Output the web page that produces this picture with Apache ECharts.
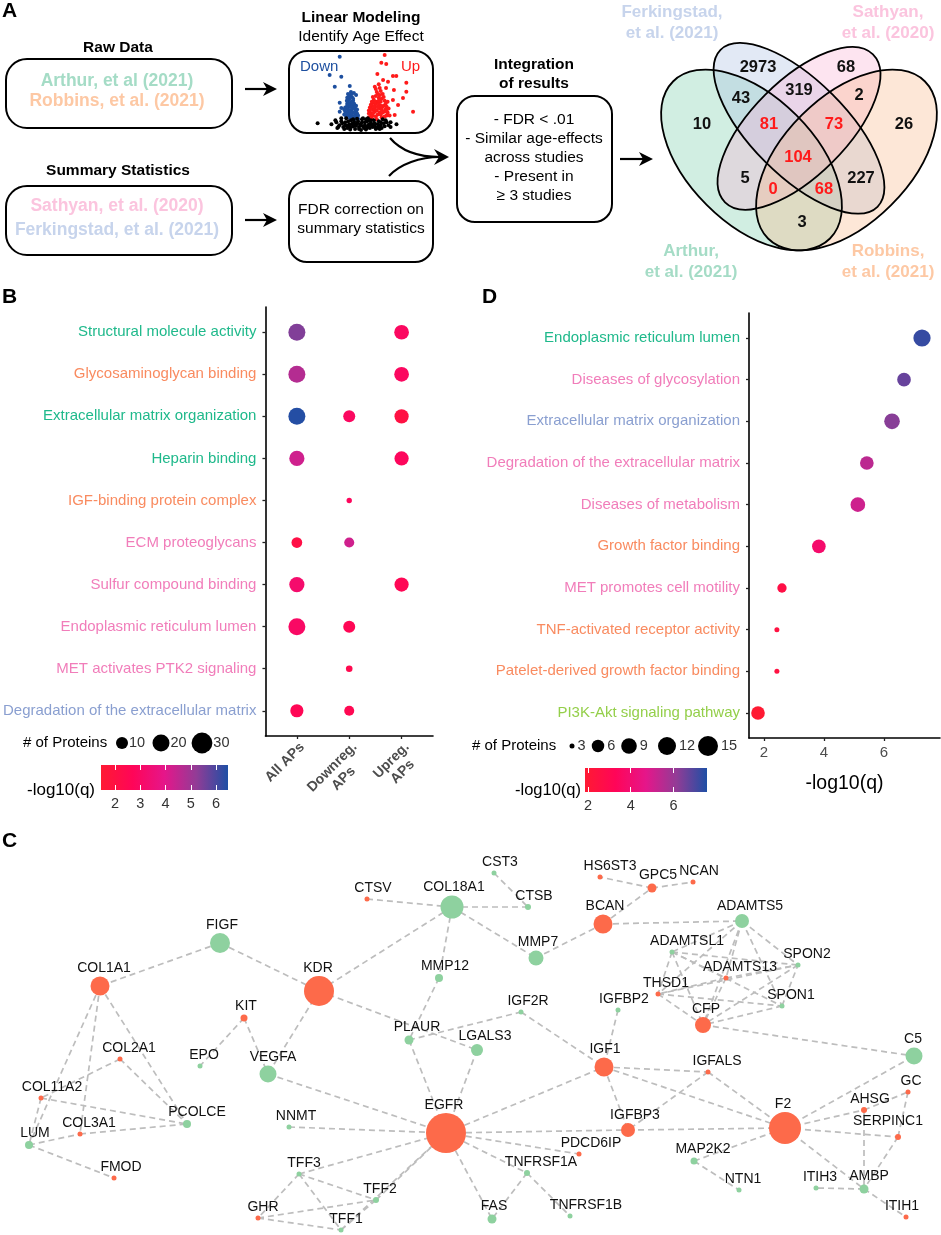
<!DOCTYPE html>
<html><head><meta charset="utf-8">
<script src="https://cdn.jsdelivr.net/npm/echarts@6.0.0/dist/echarts.min.js"></script>
<style>html,body{margin:0;padding:0;background:#fff}#main{width:941px;height:1235px}</style>
</head><body><div id="main"></div>
<script>
// ================= DATA =================
// Panel A – Venn (region membership: A=Arthur, F=Ferkingstad, S=Sathyan, R=Robbins)
const vennRegions = ['F','S','AF','FS','SR','A','AFS','FSR','R','AFSR','AS','ASR','AFR','FR','AR'];
const vennCounts  = [2973, 68, 43, 319, 2, 10, 81, 73, 26, 104, 5, 0, 68, 227, 3];
const vennSetNames = ['Arthur,\net al. (2021)','Ferkingstad,\net al. (2021)','Sathyan,\net al. (2020)','Robbins,\net al. (2021)'];

// Panel A – volcano sketch (logFC, -log10 p)
const volcanoDown = [[-1.08,7.62],[-1.59,5.74],[-1.0,5.57],[-1.33,4.54],[-0.57,4.62],[-0.51,4.0],[-0.36,3.9],[-0.66,3.79],[-0.25,3.69],[-0.46,3.49],[-1.08,2.9],[-1.0,2.36],[-1.08,1.98],
  [-0.7,2.8],[-0.6,2.5],[-0.5,2.9],[-0.4,2.6],[-0.3,2.2],[-0.8,2.0],[-0.6,1.8],[-0.45,1.6],[-0.3,1.8],[-0.2,1.5],[-0.75,1.5],[-0.55,1.3],[-0.35,1.2],[-0.15,1.25],[-0.65,2.2],[-0.5,2.1],[-0.85,1.7],[-0.25,2.6],[-0.4,3.1],[-0.6,3.2],[-0.55,3.5],[-0.7,3.4],
  [-0.8,2.4],[-0.7,2.6],[-0.65,1.9],[-0.55,2.0],[-0.45,2.3],[-0.35,2.4],[-0.25,2.0],[-0.2,1.8],[-0.15,1.6],[-0.4,1.9],[-0.5,1.7],[-0.6,1.55],[-0.7,1.75],[-0.3,1.45],[-0.45,1.35],[-0.55,2.7],[-0.35,2.8],[-0.45,3.0],[-0.65,2.95],[-0.75,2.3],[-0.85,2.2],[-0.5,2.5],[-0.3,2.5],[-0.2,2.2],[-0.6,3.6],[-0.5,3.8],[-0.4,3.3],[-0.72,3.1]];
const volcanoUp = [[1.2,7.79],[1.03,7.0],[1.28,6.87],[0.83,5.85],[1.62,5.64],[1.79,5.64],[1.12,5.23],[1.37,5.06],[2.3,4.95],[0.7,4.54],[1.67,4.2],[1.27,4.4],[2.3,4.03],[2.13,3.38],[1.62,3.18],[2.64,1.98],[1.71,1.64],[0.96,3.7],[1.88,2.67],
  [0.4,1.4],[0.5,1.8],[0.6,2.2],[0.7,2.6],[0.8,3.0],[0.9,3.4],[1.0,3.0],[1.1,2.5],[1.2,2.0],[1.3,1.6],[0.55,1.3],[0.75,1.5],[0.95,1.9],[1.05,1.4],[0.65,3.2],[0.85,3.8],[1.0,4.1],[0.45,2.4],[1.25,2.8],[1.15,3.5],[0.7,2.0],[0.9,2.4],[0.6,2.9],[1.4,2.3],[0.5,1.5],[0.8,1.2],
  [0.4,1.8],[0.45,2.0],[0.5,2.3],[0.55,2.6],[0.6,1.6],[0.65,1.9],[0.7,2.3],[0.75,2.8],[0.8,2.1],[0.85,1.7],[0.9,2.8],[0.95,2.3],[1.0,1.7],[1.05,2.2],[1.1,1.9],[1.15,2.6],[1.2,1.5],[1.25,2.2],[1.3,2.5],[1.35,1.9],[0.6,3.5],[0.7,3.0],[0.75,3.6],[0.8,4.0],[0.9,3.1],[0.95,4.4],[1.05,3.3],[1.1,3.8],[1.2,3.1],[0.5,2.7],[0.4,2.1],[0.55,3.0],[1.0,2.6],[0.85,2.5],[0.65,2.5],[1.3,2.0],[1.45,1.6],[1.35,3.0],[0.9,4.8],[0.75,4.3]];
const volcanoNS = [[-2.2,0.8],[-1.5,0.7],[-1.3,1.1],[-1.1,0.6],[-1.0,1.3],[-0.9,0.4],[-0.8,0.9],[-0.7,0.3],[-0.6,0.7],[-0.5,1.1],[-0.4,0.5],[-0.3,0.2],[-0.2,0.8],[-0.1,0.4],[0.0,0.1],[0.1,0.5],[0.2,0.9],[0.3,0.3],[0.4,0.7],[0.5,1.1],[0.6,0.4],[0.7,0.8],[0.8,0.3],[0.9,1.0],[1.0,0.6],[1.1,1.2],[1.2,0.5],[1.3,0.9],[1.5,0.4],[1.5,0.9],[1.8,0.7],[-0.35,0.95],[0.05,1.2],[-0.75,1.3],[0.35,1.3],[-1.2,0.3],[0.95,0.2],[-0.05,0.7],[0.25,0.15],[-0.55,0.15],
  [-1.25,0.9],[-1.15,0.4],[-0.95,0.8],[-0.85,0.2],[-0.65,1.0],[-0.6,0.45],[-0.45,0.75],[-0.4,1.2],[-0.25,0.55],[-0.15,1.0],[-0.1,0.2],[0.0,0.6],[0.05,0.9],[0.15,0.3],[0.2,0.6],[0.3,1.0],[0.35,0.5],[0.45,0.3],[0.5,0.8],[0.55,0.55],[0.65,1.1],[0.7,0.5],[0.75,0.2],[0.85,0.7],[0.9,0.4],[1.0,0.9],[1.05,0.3],[1.15,0.8],[1.25,1.1],[-0.5,0.4],[-0.2,1.25],[0.1,1.3],[0.4,1.1],[-0.8,0.6],[-1.0,1.0],[0.6,0.7],[-0.3,0.7],[0.25,1.2],[-0.7,0.55],[1.4,0.6]];

// Panel B
const bTerms = ['Structural molecule activity','Glycosaminoglycan binding','Extracellular matrix organization','Heparin binding','IGF-binding protein complex','ECM proteoglycans','Sulfur compound binding','Endoplasmic reticulum lumen','MET activates PTK2 signaling','Degradation of the extracellular matrix'];
const bTermGroup = ['teal','orange','teal','teal','orange','pink','pink','pink','pink','blue'];
const bColumns = ['All APs','Downreg.\nAPs','Upreg.\nAPs'];
const bQ = [[5.4,null,2.9],[4.7,null,2.9],[6.4,2.9,2.0],[4.3,null,2.8],[null,2.8,null],[2.1,4.3,null],[3.2,null,2.6],[3.0,2.6,null],[null,2.4,null],[2.6,2.5,null]];
const bN = [[20,null,15],[20,null,15],[20,10,14],[16,null,14],[null,2,null],[8,7,null],[16,null,14],[20,10,null],[null,3,null],[12,7,null]];
const bSizeLegend = [10,20,30];
const bColorTicks = [2,3,4,5,6];

// Panel D
const dTerms = ['Endoplasmic reticulum lumen','Diseases of glycosylation','Extracellular matrix organization','Degradation of the extracellular matrix','Diseases of metabolism','Growth factor binding','MET promotes cell motility','TNF-activated receptor activity','Patelet-derived growth factor binding','PI3K-Akt signaling pathway'];
const dTermGroup = ['teal','pink','blue','pink','pink','orange','pink','orange','orange','green'];
const dQ = [7.27,6.67,6.27,5.43,5.13,3.83,2.6,2.43,2.43,1.8];
const dN = [11,7,9,7,8,7,4,3,3,7];
const dSizeLegend = [3,6,9,12,15];
const dColorTicks = [2,4,6];
const dXTicks = [2,4,6];

// Panel C – network
const netNodes = ['CTSV','COL18A1','CST3','CTSB','FIGF','COL1A1','KDR','MMP12','KIT','PLAUR','COL2A1','EPO','VEGFA','COL11A2','PCOLCE','NNMT','EGFR','COL3A1','LUM','FMOD','TFF3','TFF2','GHR','TFF1',
  'HS6ST3','GPC5','NCAN','BCAN','ADAMTS5','MMP7','ADAMTSL1','SPON2','ADAMTS13','THSD1','SPON1','IGF2R','IGFBP2','CFP','LGALS3','C5','IGF1','IGFALS','GC','AHSG','F2','IGFBP3','SERPINC1','PDCD6IP','MAP2K2','TNFRSF1A','ITIH3','AMBP','NTN1','ITIH1','FAS','TNFRSF1B'];
const netGroup = ['up','down','down','down','down','up','up','down','up','down','up','down','down','up','down','down','up','up','down','up','down','down','up','down',
  'up','up','up','up','down','down','down','down','up','up','down','down','down','up','down','down','up','up','up','up','up','up','up','up','down','down','down','down','down','up','down','down'];
const netDegreeSize = [5,23,5,6,20,19,30,8,7,9,5,5,17,5,8,5,40,5,8,5,5,6,5,5,
  5,9,5,19,14,15,5,5,5,5,5,5,5,16,12,17,19,5,5,6,32,14,6,5,7,6,5,9,5,5,9,5];
const netEdges = [['CTSV','COL18A1'],['COL18A1','CTSB'],['CST3','CTSB'],['COL18A1','KDR'],['COL18A1','MMP12'],['COL18A1','MMP7'],['FIGF','COL1A1'],['FIGF','KDR'],['KDR','VEGFA'],['KDR','LGALS3'],
  ['MMP12','PLAUR'],['PLAUR','IGF2R'],['PLAUR','EGFR'],['LGALS3','EGFR'],['KIT','EPO'],['KIT','VEGFA'],['VEGFA','EGFR'],['COL1A1','LUM'],['COL1A1','COL3A1'],['COL1A1','PCOLCE'],
  ['COL2A1','COL11A2'],['COL2A1','PCOLCE'],['COL11A2','PCOLCE'],['COL11A2','LUM'],['LUM','COL3A1'],['COL3A1','PCOLCE'],['LUM','FMOD'],['NNMT','EGFR'],['TFF3','EGFR'],['TFF2','EGFR'],
  ['TFF1','EGFR'],['TFF3','TFF2'],['TFF3','TFF1'],['TFF3','GHR'],['GHR','TFF2'],['GHR','TFF1'],['TFF1','TFF2'],['EGFR','FAS'],['EGFR','TNFRSF1A'],['EGFR','PDCD6IP'],['EGFR','IGFBP3'],['EGFR','IGF1'],
  ['TNFRSF1A','FAS'],['TNFRSF1A','TNFRSF1B'],['IGF2R','IGF1'],['IGFBP2','IGF1'],['IGF1','IGFALS'],['IGF1','IGFBP3'],['IGF1','F2'],['IGFALS','IGFBP3'],['IGFALS','F2'],['IGFBP3','F2'],
  ['MAP2K2','F2'],['MAP2K2','NTN1'],['F2','C5'],['F2','AHSG'],['AHSG','GC'],['F2','SERPINC1'],['F2','AMBP'],['GC','SERPINC1'],['SERPINC1','AMBP'],['AHSG','AMBP'],['AMBP','ITIH3'],['AMBP','ITIH1'],
  ['CFP','C5'],['BCAN','MMP7'],['BCAN','GPC5'],['BCAN','ADAMTS5'],['GPC5','HS6ST3'],['GPC5','NCAN'],['ADAMTS5','ADAMTSL1'],['ADAMTS5','SPON2'],['ADAMTS5','SPON1'],['ADAMTS5','THSD1'],
  ['ADAMTS5','ADAMTS13'],['ADAMTS5','CFP'],['ADAMTSL1','SPON2'],['ADAMTSL1','SPON1'],['ADAMTSL1','THSD1'],['ADAMTSL1','ADAMTS13'],['ADAMTSL1','CFP'],['ADAMTS13','SPON2'],['ADAMTS13','THSD1'],
  ['ADAMTS13','CFP'],['THSD1','SPON1'],['THSD1','SPON2'],['THSD1','CFP'],['SPON1','SPON2'],['SPON1','CFP'],['SPON2','CFP']];

// ================= LAYOUT (positions only) =================
const netLayout = [[367,899],[452,907],[494,873],[528,907],[220,943],[100,986],[319,991],[439,978],[244,1018],[409,1040],[120,1059],[200,1066],[268,1074],[41,1098],[187,1124],[289,1127],[446,1133],[80,1134],[29,1145],[114,1178],[299,1174],[376,1200],[258,1218],[341,1230],
  [600,877],[652,888],[693,882],[603,924],[742,921],[536,958],[672,952],[798,965],[726,978],[658,994],[782,1006],[521,1012],[618,1010],[703,1025],[477,1050],[914,1056],[604,1067],[708,1072],[908,1092],[864,1110],[785,1128],[628,1130],[898,1137],[579,1154],[694,1161],[527,1173],[816,1188],[864,1189],[739,1190],[906,1217],[492,1219],[570,1216]];
const netLabelDx = [6,2,6,6,2,4,-1,6,2,8,9,4,5,11,10,7,-2,9,6,7,5,4,5,5,
  10,6,6,2,8,2,15,9,14,8,9,7,6,3,8,-1,1,9,3,6,-2,7,-10,12,9,14,4,5,4,-4,2,16];
const vennPos = [[758,67],[846,67],[741,98],[799,90],[859,95],[702,124],[769,124],[834,124],[904,124],[798,157],[745,178],[773,189],[824,189],[861,178],[802,222]];
const vennEllipses = [ // cx, cy, rx, ry, rotation
  [751.5,160,111,63.4,-Math.PI/4],[799,128.3,111,47.6,-Math.PI/4],[799,128.3,104.6,47.6,Math.PI/4],[846.5,160,111,63.4,Math.PI/4]];
const vennLabelPos = [[691,262],[672,23],[888,23],[888,262]];

// ================= STYLE =================
const FONT = '"Liberation Sans", Arial, Helvetica, sans-serif';
const groupColor = {teal:'#1fb98b', orange:'#f98b60', pink:'#f17dba', blue:'#8a9fd0', green:'#94cf4a'};
const nodeColor = {up:'#fd6a4a', down:'#8ed19f'};
const cbColors = ['#ff1a33','#ff0558','#e5168a','#923c96','#1e4fa5'];
const vennFill = ['rgba(120,205,170,0.34)','rgba(170,190,225,0.34)','rgba(250,175,210,0.34)','rgba(250,180,130,0.32)'];
const vennLabelColor = ['#a5dcc6','#c7d4ec','#fbc4de','#fdc8a4'];
const sizeB = n => 3.8*Math.sqrt(n);
const sizeD = n => 5 + 15*Math.sqrt(Math.max(0,(n-3))/12);

// ================= BUILD =================
const chart = echarts.init(document.getElementById('main'), null, {renderer:'canvas'});
const mctx = document.createElement('canvas').getContext('2d');
function textW(s, font){ mctx.font = font; return Math.max(...s.split('\n').map(l=>mctx.measureText(l).width)); }

function T(text, x, y, o) {
  o = o || {};
  return {type:'text', z:o.z||5, silent:true, style:{text, x, y, fill:o.fill||'#000', fontSize:o.size||15, fontWeight:o.bold?'bold':'normal',
    fontFamily:FONT, align:o.align||'center', verticalAlign:o.va||'middle', textAlign:o.align||'center', textVerticalAlign:o.va||'middle', lineHeight:o.lh||undefined}};
}
function rrect(x,y,w,h,r){ return {type:'rect', z:4, silent:true, shape:{x,y,width:w,height:h,r}, style:{fill:'none', stroke:'#000', lineWidth:2}}; }
function arrow(x1,x2,y){
  return [{type:'line', z:4, silent:true, shape:{x1, y1:y, x2:x2-8, y2:y}, style:{stroke:'#000', lineWidth:2.2}},
          {type:'polygon', z:4, silent:true, shape:{points:[[x2,y],[x2-14,y-7],[x2-10,y],[x2-14,y+7]]}, style:{fill:'#000'}}];
}
const G = [];
G.push(T('A',2,11,{bold:true,size:21,align:'left'}), T('B',2,297,{bold:true,size:21,align:'left'}), T('D',482,297,{bold:true,size:21,align:'left'}), T('C',2,841,{bold:true,size:21,align:'left'}));
G.push(T('Raw Data',118,48,{bold:true,size:15.5}));
G.push(rrect(6,59,226,69,21));
G.push(T('Arthur, et al (2021)',117,81,{bold:true,size:17.5,fill:'#a5dcc6'}), T('Robbins, et al. (2021)',117,101,{bold:true,size:17.5,fill:'#fdc8a4'}));
G.push(...arrow(245,277,89));
G.push(T('Linear Modeling',361,18,{bold:true,size:15.5}), T('Identify Age Effect',361,37,{size:15.5}));
G.push(rrect(289,51,144,82,18));
G.push(T('Down',300,67,{size:15,fill:'#1d4f9f',align:'left'}), T('Up',401,67,{size:15,fill:'#ff1a1a',align:'left'}));
G.push(T('Summary Statistics',118,171,{bold:true,size:15.5}));
G.push(rrect(6,186,226,69,21));
G.push(T('Sathyan, et al. (2020)',117,206,{bold:true,size:17.5,fill:'#fbc4de'}), T('Ferkingstad, et al. (2021)',117,230,{bold:true,size:17.5,fill:'#c7d4ec'}));
G.push(...arrow(245,277,220));
G.push(rrect(289,181,144,81,18));
G.push(T('FDR correction on',361,210,{size:15.5}), T('summary statistics',361,229,{size:15.5}));
G.push({type:'bezierCurve', z:4, silent:true, shape:{x1:390,y1:138,cpx1:402,cpy1:152,cpx2:420,cpy2:157,x2:440,y2:157}, style:{stroke:'#000',lineWidth:2.2,fill:'none'}});
G.push({type:'bezierCurve', z:4, silent:true, shape:{x1:389,y1:176,cpx1:400,cpy1:164,cpx2:420,cpy2:157,x2:440,y2:157}, style:{stroke:'#000',lineWidth:2.2,fill:'none'}});
G.push({type:'polygon', z:4, silent:true, shape:{points:[[449,157],[434,149],[439,157],[434,165]]}, style:{fill:'#000'}});
G.push(T('Integration',534,65,{bold:true,size:15.5}), T('of results',534,84,{bold:true,size:15.5}));
G.push(rrect(457,96,155,126,18));
['- FDR < .01','- Similar age-effects','across studies','- Present in','≥ 3 studies'].forEach((s,i)=>G.push(T(s,534,120+19*i,{size:15.5})));
G.push(...arrow(620,653,159));
vennEllipses.forEach((e,i)=>G.push({type:'ellipse', z:2, silent:true, x:e[0], y:e[1], rotation:e[4], shape:{cx:0,cy:0,rx:e[2],ry:e[3]}, style:{fill:vennFill[i], stroke:'none'}}));
vennEllipses.forEach((e,i)=>G.push({type:'ellipse', z:3, silent:true, x:e[0], y:e[1], rotation:e[4], shape:{cx:0,cy:0,rx:e[2],ry:e[3]}, style:{fill:'none', stroke:'#000', lineWidth:1.8}}));
vennCounts.forEach((c,i)=>G.push(T(String(c), vennPos[i][0], vennPos[i][1], {bold:true, size:16.5, fill: vennRegions[i].length>=3 ? '#ff1a1a' : '#111', z:6})));
vennSetNames.forEach((s,i)=>G.push(T(s, vennLabelPos[i][0], vennLabelPos[i][1], {bold:true, size:17, fill:vennLabelColor[i], lh:21})));
G.push(T('# of Proteins',23,743,{size:15,align:'left'}));
[122,161,202].forEach((x,i)=>{const d=sizeB(bSizeLegend[i]); G.push({type:'circle',silent:true,shape:{cx:x,cy:743,r:d/2},style:{fill:'#000'}}); G.push(T(String(bSizeLegend[i]), x+d/2+9, 743, {size:14.5,fill:'#333'}));});
G.push(T('-log10(q)',27,790,{size:17,align:'left'}));
G.push({type:'rect', z:1, silent:true, shape:{x:101,y:765,width:127,height:25}, style:{fill:new echarts.graphic.LinearGradient(0,0,1,0,cbColors.map((c,i)=>({offset:i/(cbColors.length-1),color:c})))}});
G.push(T('# of Proteins',472,746,{size:15,align:'left'}));
[572,598,629,667,708].forEach((x,i)=>{const d=sizeD(dSizeLegend[i]); G.push({type:'circle',silent:true,shape:{cx:x,cy:746,r:d/2},style:{fill:'#000'}}); G.push(T(String(dSizeLegend[i]), x+d/2+(dSizeLegend[i]>9?11:7), 746, {size:14.5,fill:'#333'}));});
G.push(T('-log10(q)',515,790,{size:16.5,align:'left'}));
G.push({type:'rect', z:1, silent:true, shape:{x:585,y:768,width:122,height:24}, style:{fill:new echarts.graphic.LinearGradient(0,0,1,0,cbColors.map((c,i)=>({offset:i/(cbColors.length-1),color:c})))}});

const bData = [];
bQ.forEach((row,i)=>row.forEach((q,j)=>{ if(q!=null) bData.push([j,i,q,bN[i][j]]); }));
const dData = dQ.map((q,i)=>[q,i,dN[i]]);
const idx = bTerms.map((_,i)=>i);

const xlFont = 'bold 14px ' + FONT;
const xRich = {};
bColumns.forEach((c,i)=>{ xRich['c'+i] = {width:Math.ceil(textW(c,xlFont)), align:'center', fontSize:14, fontWeight:'bold', color:'#4d4d4d', fontFamily:FONT, lineHeight:16}; });

function catAxis(gi, terms, groups, ticks){
  return {type:'value', gridIndex:gi, min:-0.6, max:9.6, inverse:true,
    axisLine:{show:true,onZero:false,lineStyle:{color:'#000',width:1.6}},
    axisTick:{show:true,customValues:ticks,length:3,lineStyle:{color:'#222',width:1.3}},
    axisLabel:{show:true,customValues:ticks,formatter:v=>terms[Math.round(v)]||'',color:v=>groupColor[groups[Math.round(+v)]]||'#000',fontSize:15,fontFamily:FONT,margin:9},
    splitLine:{show:false}};
}
function cbAxes(gi,min,max,ticks){
  return [{type:'value',gridIndex:gi,min,max,position:'bottom',z:10,axisLine:{show:false},
      axisTick:{show:true,inside:true,length:5,customValues:ticks,lineStyle:{color:'#fff',width:1}},
      axisLabel:{show:true,customValues:ticks,fontSize:14.5,color:'#333',fontFamily:FONT,margin:6},splitLine:{show:false}},
    {type:'value',gridIndex:gi,min,max,position:'top',z:10,axisLine:{show:false},
      axisTick:{show:true,inside:true,length:5,customValues:ticks,lineStyle:{color:'#fff',width:1}},
      axisLabel:{show:false},splitLine:{show:false}}];
}
const hid = (gi,min,max,inv)=>({type:'value',gridIndex:gi,min,max,inverse:!!inv,show:false,splitLine:{show:false}});

const xAxes = [
    hid(0,-3.5,3.5),
    {type:'value',gridIndex:1,min:-0.6,max:2.6,
      axisLine:{show:true,onZero:false,lineStyle:{color:'#000',width:1.6}},
      axisTick:{show:true,customValues:[0,1,2],length:3,lineStyle:{color:'#222',width:1.3}},
      axisLabel:{show:true,customValues:[0,1,2],
        formatter:v=>{const i=Math.round(v); return (bColumns[i]||'').split('\n').map(l=>'{c'+i+'|'+l+'}').join('\n');},
        rich:xRich,rotate:45,verticalAlign:'top',fontWeight:'bold',color:'#4d4d4d',fontSize:14,lineHeight:16,margin:3,fontFamily:FONT},
      splitLine:{show:false}},
    {type:'value',gridIndex:2,min:1.5,max:7.87,name:'-log10(q)',nameLocation:'middle',nameGap:36,nameTextStyle:{fontSize:19.5,color:'#000',fontFamily:FONT},
      axisLine:{show:true,onZero:false,lineStyle:{color:'#000',width:1.6}},
      axisTick:{show:true,customValues:dXTicks,length:3,lineStyle:{color:'#222',width:1.3}},
      axisLabel:{show:true,customValues:dXTicks,color:'#4d4d4d',fontSize:15,margin:7,fontFamily:FONT},
      splitLine:{show:false}},
    ...cbAxes(3,1.45,6.47,bColorTicks),
    ...cbAxes(4,1.86,7.57,dColorTicks),
    hid(5,0,941)
];
const yAxes = [
    hid(0,0,8),
    catAxis(1,bTerms,bTermGroup,idx),
    catAxis(2,dTerms,dTermGroup,idx),
    hid(3,0,1), hid(4,0,1),
    hid(5,840,1235,true)
];

const option = {
  animation:false,
  backgroundColor:'#fff',
  textStyle:{fontFamily:FONT},
  grid:[
    {left:292,top:53,width:138,height:78},
    {left:263,top:307,width:170,height:429},
    {left:749,top:313,width:191,height:425},
    {left:101,top:765,width:127,height:25},
    {left:585,top:768,width:122,height:24},
    {left:0,top:840,width:941,height:395}
  ],
  xAxis:xAxes,
  yAxis:yAxes,
  visualMap:[
    {type:'continuous',show:false,seriesIndex:3,dimension:2,min:1.45,max:6.47,inRange:{color:cbColors}},
    {type:'continuous',show:false,seriesIndex:4,dimension:0,min:1.86,max:7.57,inRange:{color:cbColors}}
  ],
  graphic:{elements:G},
  series:[
    {type:'scatter',xAxisIndex:0,yAxisIndex:0,data:volcanoDown,symbolSize:4,itemStyle:{color:'#1d4f9f',opacity:1},silent:true},
    {type:'scatter',xAxisIndex:0,yAxisIndex:0,data:volcanoUp,symbolSize:4,itemStyle:{color:'#ff1a1a',opacity:1},silent:true},
    {type:'scatter',xAxisIndex:0,yAxisIndex:0,data:volcanoNS,symbolSize:4,itemStyle:{color:'#000',opacity:1},silent:true},
    {type:'scatter',xAxisIndex:1,yAxisIndex:1,data:bData,symbolSize:v=>sizeB(v[3]),itemStyle:{opacity:1},silent:true},
    {type:'scatter',xAxisIndex:2,yAxisIndex:2,data:dData,symbolSize:v=>sizeD(v[2]),itemStyle:{opacity:1},silent:true},
    {type:'graph',coordinateSystem:'cartesian2d',xAxisIndex:xAxes.length-1,yAxisIndex:yAxes.length-1,layout:'none',silent:true,roam:false,
      data:netNodes.map((name,i)=>({name,value:netLayout[i],symbolSize:netDegreeSize[i],itemStyle:{color:nodeColor[netGroup[i]],opacity:1},label:{offset:[netLabelDx[i], name==='SERPINC1'?-5:0]}})),
      links:netEdges.map(([s,t])=>({source:s,target:t})),
      label:{show:true,position:'top',distance:1,fontSize:14,fontFamily:FONT,color:'#111'},
      lineStyle:{color:'#bdbdbd',width:1.7,type:[6,4],opacity:1,curveness:0},
      emphasis:{disabled:true}}
  ]
};
chart.setOption(option);
</script></body></html>
